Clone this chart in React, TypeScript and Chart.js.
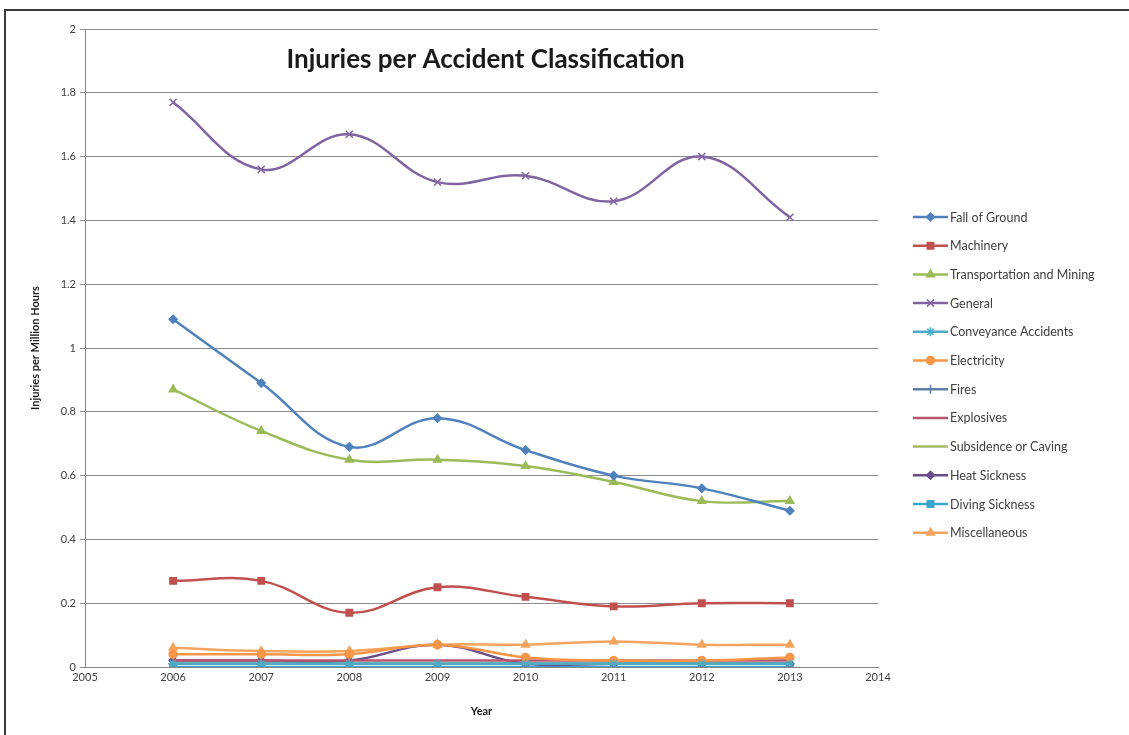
import React, { useEffect, useRef } from 'react';
import { Chart, registerables } from 'chart.js';
import { drawPoint } from 'chart.js/helpers';

Chart.register(...registerables);

const years = [2006, 2007, 2008, 2009, 2010, 2011, 2012, 2013];
const yTicks = [0, 0.2, 0.4, 0.6, 0.8, 1, 1.2, 1.4, 1.6, 1.8, 2];

const fallOfGround = [1.09, 0.89, 0.69, 0.78, 0.68, 0.60, 0.56, 0.49];
const machinery = [0.27, 0.27, 0.17, 0.25, 0.22, 0.19, 0.20, 0.20];
const transportation = [0.87, 0.74, 0.65, 0.65, 0.63, 0.58, 0.52, 0.52];
const general = [1.77, 1.56, 1.67, 1.52, 1.54, 1.46, 1.60, 1.41];
const conveyance = [0.01, 0.01, 0.01, 0.01, 0.01, 0.01, 0.01, 0.01];
const electricity = [0.04, 0.04, 0.04, 0.07, 0.03, 0.02, 0.02, 0.03];
const fires = [0.01, 0.01, 0.01, 0.01, 0.01, 0.01, 0.01, 0.01];
const explosives = [0.02, 0.02, 0.02, 0.02, 0.02, 0.02, 0.02, 0.02];
const subsidence = [0.01, 0.01, 0.01, 0.01, 0.01, 0.01, 0.01, 0.01];
const heatSickness = [0.02, 0.02, 0.02, 0.07, 0.01, 0.01, 0.01, 0.01];
const divingSickness = [0, 0, 0, 0, 0, 0, 0, 0];
const miscellaneous = [0.06, 0.05, 0.05, 0.07, 0.07, 0.08, 0.07, 0.07];

const seriesDefs = [
  { label: 'Fall of Ground', values: fallOfGround, color: '#4F81BD', marker: 'rectRot', r: 4 },
  { label: 'Machinery', values: machinery, color: '#C0504D', marker: 'rect', r: 4.5 },
  { label: 'Transportation and Mining', values: transportation, color: '#9BBB59', marker: 'triangle', r: 4.5 },
  { label: 'General', values: general, color: '#8064A2', marker: 'crossRot', r: 5 },
  { label: 'Conveyance Accidents', values: conveyance, color: '#4BACC6', marker: 'star', r: 4.5 },
  { label: 'Electricity', values: electricity, color: '#F79646', marker: 'circle', r: 4 },
  { label: 'Fires', values: fires, color: '#5A7FA8', marker: 'cross', r: 4.5 },
  { label: 'Explosives', values: explosives, color: '#B5566E', marker: 'line', r: 4 },
  { label: 'Subsidence or Caving', values: subsidence, color: '#A4B868', marker: 'line', r: 4 },
  { label: 'Heat Sickness', values: heatSickness, color: '#6A4E8C', marker: 'rectRot', r: 4 },
  { label: 'Diving Sickness', values: divingSickness, color: '#3AA6CC', marker: 'rect', r: 4.5 },
  { label: 'Miscellaneous', values: miscellaneous, color: '#F4A45C', marker: 'triangle', r: 4.5 },
];

const FONT = 'Lato, "Open Sans", sans-serif';

const decorPlugin = {
  id: 'decor',
  beforeDraw(chart: any) {
    const ctx = chart.ctx;
    ctx.save();
    ctx.fillStyle = '#ffffff';
    ctx.fillRect(0, 0, chart.width, chart.height);
    ctx.strokeStyle = '#3a3a3a';
    ctx.lineWidth = 2;
    ctx.beginPath();
    ctx.moveTo(5, chart.height);
    ctx.lineTo(5, 10);
    ctx.lineTo(chart.width, 10);
    ctx.stroke();
    ctx.restore();
  },
  afterDraw(chart: any) {
    const ctx = chart.ctx;
    const area = chart.chartArea;
    ctx.save();
    // title
    ctx.fillStyle = '#1a1a1a';
    ctx.font = `bold 26px ${FONT}`;
    ctx.textAlign = 'center';
    ctx.textBaseline = 'middle';
    ctx.fillText('Injuries per Accident Classification', (area.left + area.right) / 2 + 4, 60);
    // legend
    const x0 = area.right + 35;
    const lineLen = 35;
    const yStart = 217;
    const step = 28.7;
    ctx.font = `12.5px ${FONT}`;
    ctx.textAlign = 'left';
    chart.data.datasets.forEach((ds: any, i: number) => {
      const y = yStart + i * step;
      ctx.strokeStyle = ds.borderColor;
      ctx.fillStyle = ds.borderColor;
      ctx.lineWidth = 2.5;
      ctx.beginPath();
      ctx.moveTo(x0, y);
      ctx.lineTo(x0 + lineLen, y);
      ctx.stroke();
      if (ds.pointStyle !== 'line') {
        ctx.lineWidth = 1.5;
        drawPoint(ctx, {
          pointStyle: ds.pointStyle,
          radius: ds.pointRadius,
          rotation: 0,
          borderWidth: 1.5,
        } as any, x0 + lineLen / 2, y);
      }
      ctx.fillStyle = '#404040';
      ctx.fillText(ds.label, x0 + lineLen + 2, y + 0.5);
    });
    ctx.restore();
  },
};

export default function App() {
  const canvasRef = useRef<HTMLCanvasElement | null>(null);

  useEffect(() => {
    document.body.style.margin = '0';
    const canvas = canvasRef.current;
    if (!canvas) return;
    const datasets = seriesDefs.map((s) => ({
      label: s.label,
      data: years.map((yr, i) => ({ x: yr, y: s.values[i] })),
      borderColor: s.color,
      backgroundColor: s.color,
      pointBackgroundColor: s.color,
      pointBorderColor: s.color,
      pointStyle: s.marker,
      pointRadius: s.marker === 'line' ? 0 : s.r,
      pointBorderWidth: 1.5,
      borderWidth: 2.5,
      tension: 0.4,
      fill: false,
    }));
    const chart = new Chart(canvas, {
      type: 'line',
      data: { datasets },
      plugins: [decorPlugin],
      options: {
        animation: false,
        responsive: true,
        maintainAspectRatio: false,
        layout: { padding: { top: 29, right: 251, bottom: 0, left: 0 } },
        plugins: {
          legend: { display: false },
          title: { display: false },
          tooltip: { enabled: false },
        },
        scales: {
          x: {
            type: 'linear',
            min: 2005,
            max: 2014,
            afterFit: (scale: any) => { scale.height = 68; },
            ticks: {
              stepSize: 1,
              callback: (v: any) => String(v),
              color: '#404040',
              font: { family: FONT, size: 11 },
              padding: 4,
              maxRotation: 0,
            },
            grid: { display: false, drawTicks: false },
            border: { display: true, color: '#868686', width: 1 },
            title: {
              display: true,
              text: 'Year',
              color: '#1a1a1a',
              font: { family: FONT, size: 11, weight: 'bold' },
              padding: { top: 0, bottom: 17 },
            },
          },
          y: {
            type: 'linear',
            min: 0,
            max: 2,
            afterFit: (scale: any) => { scale.width = 85; },
            afterBuildTicks: (scale: any) => {
              scale.ticks = yTicks.map((v) => ({ value: v }));
            },
            ticks: {
              callback: (v: any) => String(Math.round(v * 10) / 10),
              color: '#404040',
              font: { family: FONT, size: 11 },
              padding: 4,
            },
            grid: {
              color: '#8c8c8c',
              lineWidth: 1,
              tickLength: 5,
              drawTicks: true,
            },
            border: { display: true, color: '#868686', width: 1 },
            title: {
              display: true,
              text: 'Injuries per Million Hours',
              color: '#1a1a1a',
              font: { family: FONT, size: 11, weight: 'bold' },
              padding: { top: 29, bottom: 0 },
            },
          },
        },
      } as any,
    });
    return () => chart.destroy();
  }, []);

  return (
    <div style={{ width: 1129, height: 735, position: 'relative' }}>
      <canvas ref={canvasRef} />
    </div>
  );
}
